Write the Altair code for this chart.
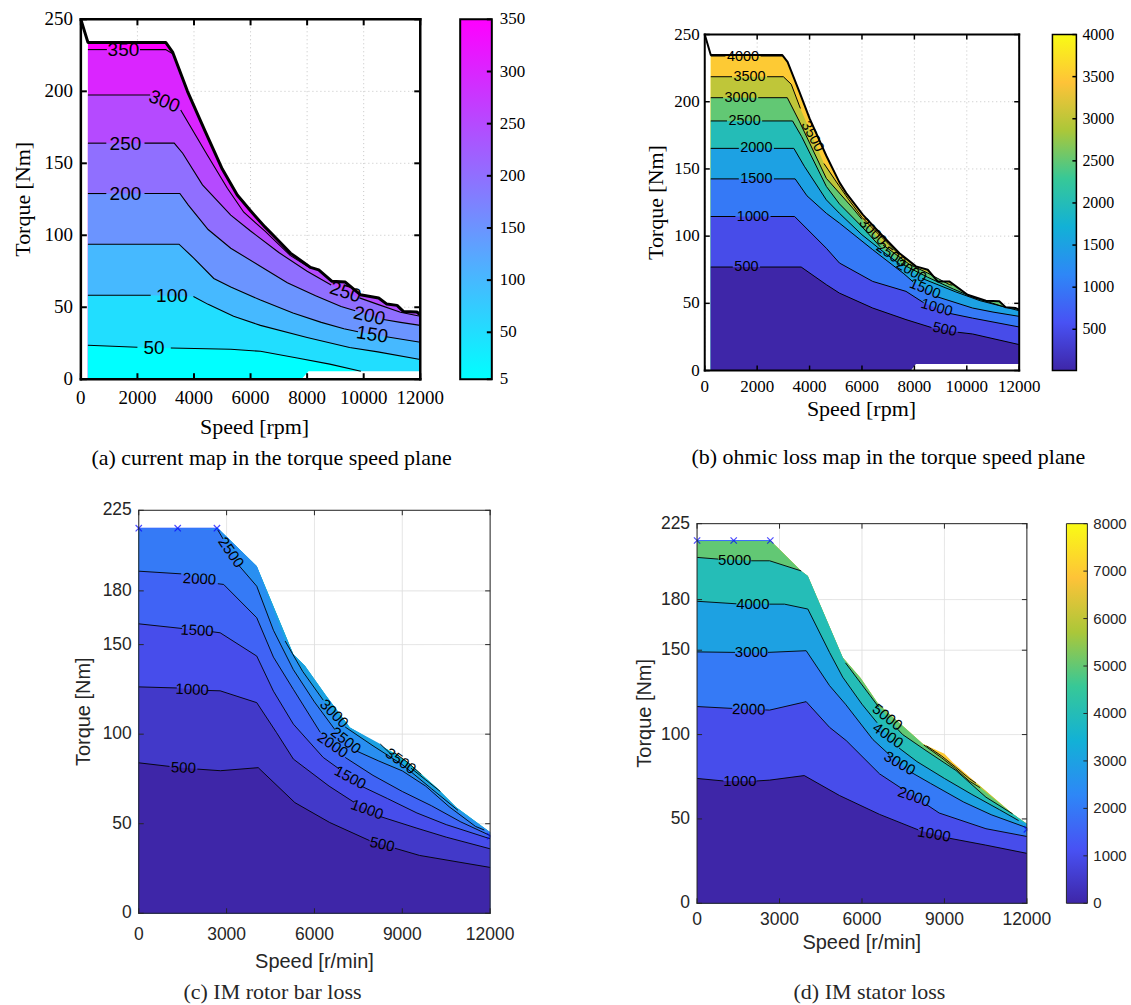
import altair as alt
import pandas as pd

SERIF = "Liberation Serif"
SANS = "Liberation Sans"

# ---------------- tick values ----------------
AB_SPEED_TICKS = [0, 2000, 4000, 6000, 8000, 10000, 12000]
AB_TORQUE_TICKS = [0, 50, 100, 150, 200, 250]
CD_SPEED_TICKS = [0, 3000, 6000, 9000, 12000]
CD_TORQUE_TICKS = [0, 50, 100, 150, 180, 225]
A_CB_TICKS = [5, 50, 100, 150, 200, 250, 300, 350]
B_CB_TICKS = [500, 1000, 1500, 2000, 2500, 3000, 3500, 4000]
D_CB_TICKS = [0, 1000, 2000, 3000, 4000, 5000, 6000, 7000, 8000]

COOL = ["#00ffff", "#ff00ff"]
PARULA = ["#3e26a8", "#4852f4", "#2e87f7", "#12b1d6", "#37c897", "#abc739", "#fec338", "#f9fb15"]

# ---------------- (a) current map ----------------
A_ENV_START = [(0, 250), (250, 234)]
A_ENV = [(250, 234), (3000, 234), (3250, 227), (3770, 200), (4400, 172), (5000, 146), (5530, 128),
         (6000, 117), (6500, 106), (7000, 96), (7410, 87.6), (8120, 77.7), (8410, 76), (8880, 68),
         (9350, 67.5), (9880, 58.7), (10530, 56.4), (10820, 52.2), (11180, 51.3), (11410, 47),
         (11880, 46.7), (12000, 44.8)]
A_GAP = [(7800, 0), (8050, 5.5), (12000, 5.5)]
A_C350 = [(250, 229), (920, 229), None, (2090, 229), (3000, 229), (3250, 226)]
A_C300 = [(250, 197.4), (2450, 197.4), None, (3530, 187), (4470, 155.8), (5180, 132.7), (5760, 116),
          (6500, 103), (7400, 86), (8120, 77)]
A_C250 = [(250, 164), (900, 164), None, (2250, 164), (3300, 164), (3600, 157), (4300, 135), (5300, 114),
          (6000, 103), (7000, 88), (8000, 75), (8850, 65.5), None, (9850, 56.5), (10500, 52),
          (11300, 46.5), (12000, 43.8)]
A_C200 = [(250, 129), (900, 129), None, (2250, 129), (3500, 129), (3800, 121), (4500, 104), (5300, 91),
          (6300, 79), (7300, 67), (8300, 58), (9200, 50.5), (9700, 47.5), None, (10700, 41.5),
          (11300, 39.5), (12000, 37.4)]
A_C150 = [(250, 93.8), (3470, 93.8), (4000, 84), (4700, 70), (5300, 64), (6350, 55), (7500, 46),
          (8500, 39.5), (9300, 35), (9800, 33), None, (10800, 29.5), (12000, 25.7)]
A_C100 = [(250, 58.3), (2470, 58.3), None, (3980, 57.5), (4500, 52), (5400, 43.7), (6350, 37.4),
          (8000, 29), (9500, 22), (10500, 19), (12000, 13.7)]
A_C50 = [(250, 23.6), (2000, 22.2), None, (3180, 21.7), (5300, 20.8), (6350, 19.4), (7650, 14.8),
         (8800, 10.5), (9900, 5.5)]
A_LABELS = [("350", 1505, 228.5, 0), ("300", 2950, 193, 22), ("250", 1575, 163.5, 0),
            ("200", 1575, 128.5, 0), ("100", 3220, 57.8, 0), ("50", 2590, 22, 0),
            ("250", 9350, 60.5, 18), ("200", 10200, 44, 13), ("150", 10300, 31, 9)]

# ---------------- (b) ohmic loss map ----------------
B_ENV_START = [(0, 250), (230, 234.7)]
B_ENV = [(230, 234.7), (2960, 234.7), (3160, 229.7), (3620, 207), (4000, 187.6), (4635, 160),
         (5140, 140), (5400, 132), (6030, 116), (6700, 102), (7430, 87.3), (8060, 77.5), (8510, 75),
         (8890, 66.3), (9330, 66.3), (10030, 56.4), (10730, 52), (11240, 51.5), (11490, 47),
         (11870, 46.5), (12000, 45.3)]
B_GAP = [(7870, 0), (8060, 4.9), (12000, 4.9)]
B_C4000 = [(230, 234), (790, 234), None, (2130, 234), (2960, 234)]
B_C3500 = [(230, 218.6), (1040, 218.6), None, (2380, 218.6), (3000, 218.6), (3300, 213), (3650, 195),
           None, (4550, 154), (5000, 141), (5500, 127), (6000, 114), (6500, 104), (7000, 94.5),
           (7430, 86)]
B_C3000 = [(230, 203), (700, 203), None, (2040, 203), (3150, 203), (3620, 185), (4640, 143),
           (5650, 120.8), (6000, 112.5), None, (6800, 93.5), (7810, 79), (8510, 72.5), (9330, 64),
           (9450, 63.5)]
B_C2500 = [(230, 185.7), (850, 185.7), None, (2190, 185.7), (3350, 185.7), (3700, 174), (4640, 137),
           (5140, 124), (6000, 107), (6700, 92), None, (7500, 79.5), (8500, 69.5), (9500, 60.5),
           (10300, 54), (11000, 50), (11500, 46.8)]
B_C2000 = [(230, 165.3), (1300, 165.3), None, (2640, 165.3), (3400, 165.3), (3800, 152), (4640, 127),
           (5140, 117), (6000, 101), (6900, 87), (7450, 79), None, (8300, 68.5), (9580, 58.5),
           (10500, 52), (11300, 48), (12000, 44.5)]
B_C1500 = [(230, 142.6), (1300, 142.6), None, (2640, 142.6), (3450, 142.6), (3900, 130), (4640, 117),
           (5140, 109.7), (6410, 89.9), (7600, 72), (7950, 66), None, (8850, 55), (10220, 46.5),
           (11000, 43.5), (12000, 40.3)]
B_C1000 = [(230, 114.6), (1170, 114.6), None, (2510, 114.6), (3430, 114.6), (4640, 91), (5140, 80),
           (6410, 66.3), (7680, 58.9), (8350, 50.5), None, (9350, 42.5), (10220, 39), (12000, 32.4)]
B_C500 = [(230, 77), (1070, 77), None, (2110, 77), (3680, 77), (4640, 63.9), (5140, 57.6),
          (6410, 46.5), (7680, 37.9), (8650, 32), None, (9650, 28.5), (10220, 27.2), (12000, 19.3)]
B_LABELS = [("4000", 1460, 233.6, 0), ("3500", 1710, 218.6, 0), ("3000", 1370, 203, 0),
            ("2500", 1520, 185.7, 0), ("2000", 1970, 165.3, 0), ("1500", 1970, 142.6, 0),
            ("1000", 1840, 114.6, 0), ("500", 1590, 77, 0),
            ("3500", 4100, 174, 62), ("3000", 6400, 103, 45), ("2500", 7100, 85.8, 35),
            ("2000", 7875, 73.7, 30), ("1500", 8400, 60.5, 22), ("1000", 8850, 46.5, 16),
            ("500", 9150, 30.3, 12)]

# ---------------- (c) IM rotor bar loss ----------------
C_ENV = [(0, 215), (1300, 215), (2700, 215), (4030, 193.8), (5280, 144.6), (5680, 138), (6400, 121.5),
         (7210, 103.7), (8570, 90.8), (9140, 85.2), (10160, 70.3), (10840, 59.2), (12000, 45.3)]
C_MARKS = [(0, 215), (1330, 215), (2670, 215), (12000, 43)]
C_C4000 = [(8750, 89.5), (9200, 84), (9650, 77.5)]
C_C3500 = [(8250, 94.5), (8600, 89), None, (9300, 81), (9800, 74.5), (10300, 68)]
C_C3000 = [(5000, 152), (5600, 135), (6300, 119), None, (7050, 104), (8000, 93.5), (9000, 83),
           (10000, 69.5), (10900, 57.5)]
C_C2500 = [(2700, 214), (2880, 209), None, (3430, 194), (4030, 182.6), (4600, 158), (5280, 136),
           (6000, 118), (6700, 102.5), None, (7450, 90.5), (8200, 85), (9000, 79.5), (9800, 71),
           (10600, 59.5), (11500, 48.5), (11800, 46.5)]
C_C2000 = [(0, 191), (1450, 189.5), None, (2700, 184), (2900, 183.6), (4030, 165), (4600, 143),
           (5280, 125), (6200, 101), None, (7050, 87), (8000, 77), (9000, 68), (10000, 60),
           (11000, 51), (12000, 43.4)]
C_C1500 = [(0, 161.6), (1480, 159), None, (2500, 157.2), (2780, 156.6), (4030, 143.6), (4600, 124),
           (5280, 105.6), (6300, 87), (6850, 80.5), None, (7600, 71), (8500, 64), (9500, 56),
           (10500, 49.5), (12000, 41.6)]
C_C1000 = [(0, 126.4), (1300, 125.8), None, (2350, 124.4), (2780, 124.2), (4030, 117.6), (4700, 101),
           (5280, 86.1), (6500, 71), (7350, 62), None, (8250, 54), (9500, 47.5), (10500, 42.5),
           (12000, 36)]
C_C500 = [(0, 84), (1050, 82), None, (2000, 80.5), (2790, 79.6), (4080, 81.3), (5330, 61.8),
          (6520, 50.7), (7880, 40.6), None, (8750, 36.3), (9590, 32.3), (12000, 25.6)]
C_LABELS = [("2500", 3155, 201.5, 55), ("2000", 2075, 186.7, 3), ("1500", 1990, 158, 3),
            ("1000", 1825, 125, 2), ("500", 1525, 81.3, 2),
            ("3000", 6675, 111.5, 45), ("2500", 7075, 96.5, 38), ("2000", 6625, 94, 35),
            ("1500", 7225, 75.8, 28), ("1000", 7800, 58, 20), ("500", 8315, 38.5, 12),
            ("3500", 8950, 85, 35)]

# ---------------- (d) IM stator loss ----------------
D_ENV = [(0, 215), (1300, 215), (2670, 215), (3790, 197), (4030, 194), (5300, 145.7), (5950, 133.5),
         (6600, 118), (8210, 94.5), (9000, 88.6), (9300, 83.6), (10200, 70.8), (11480, 53),
         (12000, 47.2)]
D_MARKS = [(0, 215), (1333, 215), (2666, 215), (12000, 43.8)]
D_C7000 = [(8350, 93.3), (8900, 87.3), (9400, 80.8), (9900, 74), (10150, 71.2)]
D_C6000 = [(8250, 93.8), (8900, 86.2), (9400, 79.8), (9900, 72.5), (10300, 68.5)]
D_C5000_A = [(0, 205), (770, 204), None, (1970, 203), (2640, 203), (3790, 197)]
D_C5000_B = [(5400, 142.5), (6300, 123), (6600, 116.5), None, (7250, 104), (7480, 100), (8330, 90.5),
             (9420, 78.7), (10510, 62.9), (11480, 53)]
D_C4000 = [(0, 179), (1430, 177.5), None, (2630, 177.3), (3180, 177.3), (4030, 174.4), (4820, 148.7),
           (5300, 134), (6000, 118), (6550, 107), None, (7350, 92), (8000, 84), (9000, 74),
           (10000, 64.5), (11000, 55.5), (11700, 49)]
D_C3000 = [(0, 149), (1380, 148.7), None, (2580, 148.7), (3970, 149.7), (4820, 129), (5400, 118),
           (6400, 97), (7000, 88), None, (7750, 78), (8500, 71), (9700, 60), (10700, 52.5),
           (12000, 44.8)]
D_C2000 = [(0, 116.6), (1280, 115.5), None, (2480, 114.6), (2640, 114.5), (3970, 119.5), (4820, 104.3),
           (5430, 96.4), (6640, 76.7), (7450, 68), None, (8350, 58.5), (8810, 53.5), (10510, 44.2),
           (12000, 39.6)]
D_C1000 = [(0, 74), (960, 72.5), None, (2160, 72.5), (2640, 73), (3900, 75.7), (5180, 63.9),
           (6640, 52.7), (8050, 43.5), None, (9200, 38.5), (10500, 34.5), (12000, 29.6)]
D_LABELS = [("5000", 1370, 203.5, 0), ("4000", 2030, 177.4, 0), ("3000", 1980, 148.7, 0),
            ("2000", 1880, 115, 1), ("1000", 1560, 72.5, 0),
            ("5000", 6925, 110.3, 38), ("4000", 6950, 99.5, 35), ("3000", 7375, 83, 30),
            ("2000", 7900, 63.2, 20), ("1000", 8625, 41, 10)]

CAPTIONS = ["(a) current map in the torque speed plane", "(b) ohmic loss map in the torque speed plane",
            "(c) IM rotor bar loss", "(d) IM stator loss"]
XTITLES = ["Speed [rpm]", "Speed [rpm]", "Speed [r/min]", "Speed [r/min]"]
YTITLE = "Torque [Nm]"


def split_pieces(seg):
    pieces, cur = [], []
    for p in seg:
        if p is None:
            if cur:
                pieces.append(cur)
            cur = []
        else:
            cur.append(p)
    if cur:
        pieces.append(cur)
    return pieces


def boundary(env, segs, floor=False):
    pts = [p for s in segs for p in s if p is not None]
    if not floor:
        rng = []
        for s in segs:
            xs = [p[0] for p in s if p is not None]
            rng.append((min(xs), max(xs)))
        pts = pts + [p for p in env if not any(lo <= p[0] <= hi for lo, hi in rng)]
    return sorted(pts)


ONE = pd.DataFrame({"k": [0]})


def pts_df(pts):
    return pd.DataFrame({"speed": [p[0] for p in pts], "torque": [p[1] for p in pts]})


def build_panel(P):
    ox, oy, w, h = P["ox"], P["oy"], P["w"], P["h"]
    st = P["style"]
    fld = P["field"]
    xs = alt.Scale(domain=[0, 12000], range=[ox, ox + w], nice=False, zero=False)
    ys = alt.Scale(domain=[0, P["ymax"]], range=[oy + h, oy], nice=False, zero=False)
    cs = alt.Scale(domain=P["cdom"], range=P["crange"], interpolate="rgb")

    def X(f="speed"):
        return alt.X(f + ":Q", scale=xs, axis=None)

    def Y(f="torque"):
        return alt.Y(f + ":Q", scale=ys, axis=None)

    xt = pd.DataFrame({"v": P["xticks"]})
    yt = pd.DataFrame({"v": P["yticks"]})
    layers = []
    # grid
    gk = dict(color=st["grid"], strokeWidth=1, strokeDash=st["dash"])
    layers += [
        alt.Chart(xt).mark_rule(**gk).encode(x=X("v"), y=alt.value(oy), y2=alt.value(oy + h)),
        alt.Chart(yt).mark_rule(**gk).encode(y=Y("v"), x=alt.value(ox), x2=alt.value(ox + w)),
    ]
    # filled contour bands
    area_sets = [(P["env"], P["top_band"])]
    for c in P["contours"]:
        area_sets.append((boundary(P["env"], c["segs"], c.get("floor", False)), c["band"]))
    for pts, band in area_sets:
        df = pts_df(pts)
        df[fld] = band
        layers.append(alt.Chart(df).mark_area().encode(
            x=X(), y=Y(), y2=alt.datum(0), color=alt.Color(fld + ":Q", scale=cs, legend=None)))
    if P.get("gap"):
        layers.append(alt.Chart(pts_df(P["gap"])).mark_area(color="white").encode(
            x=X(), y=Y(), y2=alt.datum(0)))
    # contour lines
    rows = []
    for li, c in enumerate(P["contours"]):
        for si, s in enumerate(c["segs"]):
            for pi, piece in enumerate(split_pieces(s)):
                for i, p in enumerate(piece):
                    rows.append(dict(speed=p[0], torque=p[1], cid=f"{li}_{si}_{pi}", i=i))
    layers.append(alt.Chart(pd.DataFrame(rows)).mark_line(color="black", strokeWidth=st["lw"]).encode(
        x=X(), y=Y(), detail="cid:N", order="i:Q"))
    if P.get("env_line"):
        layers.append(alt.Chart(pts_df(P["env_line"])).mark_line(
            color="black", strokeWidth=st["env_w"], strokeJoin="round").encode(x=X(), y=Y()))
    if P.get("marks"):
        mk = P["marks"]
        layers.append(alt.Chart(pts_df(mk[:3])).mark_line(color="#3a6bff", strokeWidth=1).encode(
            x=X(), y=Y()))
        layers.append(alt.Chart(pts_df(mk)).mark_point(
            shape="M-1,-1L1,1M-1,1L1,-1", size=40, color="#0000ff", strokeWidth=1.2).encode(
            x=X(), y=Y()))
    lab = pd.DataFrame(P["labels"], columns=["txt", "speed", "torque", "ang"])
    layers.append(alt.Chart(lab).mark_text(font=SANS, fontSize=st["lab_fs"], color="black",
                                           align="center", baseline="middle").encode(
        x=X(), y=Y(), text="txt:N", angle=alt.Angle("ang:Q", scale=None)))
    # white cover outside the plot box (clips the marker at the right edge)
    layers.append(alt.Chart(ONE).mark_rect(color="white").encode(
        x=alt.value(ox + w + 0.5), x2=alt.value(ox + w + 12), y=alt.value(oy), y2=alt.value(oy + h)))
    # inward ticks
    tl = st["tick_len"]
    rk = dict(color=st["frame"], strokeWidth=st["tick_w"])
    layers += [
        alt.Chart(xt).mark_rule(**rk).encode(x=X("v"), y=alt.value(oy + h), y2=alt.value(oy + h - tl)),
        alt.Chart(xt).mark_rule(**rk).encode(x=X("v"), y=alt.value(oy), y2=alt.value(oy + tl)),
        alt.Chart(yt).mark_rule(**rk).encode(y=Y("v"), x=alt.value(ox), x2=alt.value(ox + tl)),
        alt.Chart(yt).mark_rule(**rk).encode(y=Y("v"), x=alt.value(ox + w - tl), x2=alt.value(ox + w)),
    ]
    # box
    fk = dict(color=st["frame"], strokeWidth=st["frame_w"], strokeCap="square")
    layers += [
        alt.Chart(ONE).mark_rule(**fk).encode(x=alt.value(ox), x2=alt.value(ox + w), y=alt.value(oy)),
        alt.Chart(ONE).mark_rule(**fk).encode(x=alt.value(ox), x2=alt.value(ox + w), y=alt.value(oy + h)),
        alt.Chart(ONE).mark_rule(**fk).encode(x=alt.value(ox), y=alt.value(oy), y2=alt.value(oy + h)),
        alt.Chart(ONE).mark_rule(**fk).encode(x=alt.value(ox + w), y=alt.value(oy), y2=alt.value(oy + h)),
    ]
    # tick labels
    tk = dict(font=st["font"], fontSize=st["tick_fs"], color=st["fg"])
    layers += [
        alt.Chart(xt).mark_text(align="center", baseline="middle", **tk).encode(
            x=X("v"), y=alt.value(oy + h + st["xlab_dy"]), text=alt.Text("v:Q", format="d")),
        alt.Chart(yt).mark_text(align="right", baseline="middle", **tk).encode(
            y=Y("v"), x=alt.value(ox - st["ylab_dx"]), text=alt.Text("v:Q", format="d")),
    ]
    # axis titles / caption
    for txt, tx, ty, ang, font, fs in P["texts"]:
        layers.append(alt.Chart(pd.DataFrame({"t": [txt]})).mark_text(
            font=font, fontSize=fs, color=st["fg"], angle=ang, align="center", baseline="middle").encode(
            x=alt.value(ox + tx), y=alt.value(oy + ty), text="t:N"))
    main = alt.layer(*layers)
    if not P.get("cb"):
        return main.properties(width=P["cw"], height=P["ch"])
    cb = P["cb"]
    cx0, cx1 = ox + cb["x0"], ox + cb["x1"]
    cbs = alt.Scale(domain=[cb["lo"], cb["hi"]], range=[oy + h, oy], nice=False, zero=False)
    n = len(P["crange"])
    grad = alt.LinearGradient(gradient="linear", x1=0, x2=0, y1=1, y2=0,
                              stops=[alt.GradientStop(offset=i / (n - 1), color=c)
                                     for i, c in enumerate(P["crange"])])
    ct = pd.DataFrame({"v": cb["ticks"]})
    cbl = [
        alt.Chart(pd.DataFrame({"lo": [cb["lo"]], "hi": [cb["hi"]]})).mark_rect(color=grad).encode(
            x=alt.value(cx0), x2=alt.value(cx1),
            y=alt.Y("lo:Q", scale=cbs, axis=None), y2=alt.Y2("hi:Q")),
        alt.Chart(ct).mark_rule(color=st["frame"], strokeWidth=st["cb_tick_w"]).encode(
            x=alt.value(cx1 - st["cb_tick_len"]), x2=alt.value(cx1),
            y=alt.Y("v:Q", scale=cbs, axis=None)),
        alt.Chart(ONE).mark_rect(fillOpacity=0, stroke=st["frame"], strokeWidth=st["cb_frame_w"]).encode(
            x=alt.value(cx0), x2=alt.value(cx1), y=alt.value(oy), y2=alt.value(oy + h)),
        alt.Chart(ct).mark_text(align="left", baseline="middle", font=st["font"], fontSize=st["cb_fs"],
                                color=st["fg"]).encode(
            x=alt.value(cx1 + st["cb_pad"]), y=alt.Y("v:Q", scale=cbs, axis=None),
            text=alt.Text("v:Q", format="d")),
    ]
    return (alt.layer(main, alt.layer(*cbl)).resolve_scale(y="independent")
            .properties(width=P["cw"], height=P["ch"]))


STYLE_A = dict(font=SERIF, tick_fs=19, fg="black", grid="#c4c4c4", dash=[1, 3], xlab_dy=19, ylab_dx=8,
               frame="black", frame_w=2.5, tick_w=2, tick_len=6, lw=1.1, env_w=3, lab_fs=19,
               cb_fs=17, cb_pad=8, cb_frame_w=2, cb_tick_len=5, cb_tick_w=2)
STYLE_B = dict(font=SERIF, tick_fs=17, fg="black", grid="#c4c4c4", dash=[1, 3], xlab_dy=16.5, ylab_dx=5,
               frame="black", frame_w=2, tick_w=1.5, tick_len=5, lw=1, env_w=2, lab_fs=14.5,
               cb_fs=16, cb_pad=6, cb_frame_w=1.5, cb_tick_len=4, cb_tick_w=1.5)
STYLE_C = dict(font=SANS, tick_fs=17.5, fg="#262626", grid="#e0e0e0", dash=[1, 0], xlab_dy=21.5,
               ylab_dx=7, frame="#262626", frame_w=1, tick_w=1, tick_len=5, lw=0.9, env_w=1,
               lab_fs=15, cb_fs=15, cb_pad=6, cb_frame_w=1, cb_tick_len=4, cb_tick_w=1)
STYLE_D = dict(STYLE_C, xlab_dy=17)

parula_b = [10 + i * (4000 - 10) / 7 for i in range(8)]
parula_cd = [i * 8000 / 7 for i in range(8)]

PA = dict(cw=565, ch=490, ox=80, oy=17.5, w=340, h=360.5, ymax=250, style=STYLE_A, field="band_a",
          cdom=[5, 350], crange=COOL, xticks=AB_SPEED_TICKS, yticks=AB_TORQUE_TICKS, env=A_ENV,
          top_band=350, env_line=A_ENV_START[:1] + A_ENV, gap=A_GAP, labels=A_LABELS,
          contours=[dict(segs=[A_C350], band=300), dict(segs=[A_C300], band=250),
                    dict(segs=[A_C250], band=200), dict(segs=[A_C200], band=150),
                    dict(segs=[A_C150], band=100), dict(segs=[A_C100], band=50),
                    dict(segs=[A_C50], band=5, floor=True)],
          cb=dict(lo=5, hi=350, ticks=A_CB_TICKS, x0=380, x1=411.7),
          texts=[(YTITLE, -58, 180.25, 270, SERIF, 22), (XTITLES[0], 174, 408.5, 0, SERIF, 22),
                 (CAPTIONS[0], 191, 439.5, 0, SERIF, 22)])
PB = dict(cw=566, ch=490, ox=140, oy=32.7, w=315, h=336.6, ymax=250, style=STYLE_B, field="band_b",
          cdom=parula_b, crange=PARULA, xticks=AB_SPEED_TICKS, yticks=AB_TORQUE_TICKS, env=B_ENV,
          top_band=4000, env_line=B_ENV_START[:1] + B_ENV, gap=B_GAP, labels=B_LABELS,
          contours=[dict(segs=[B_C4000], band=3500), dict(segs=[B_C3500], band=3000),
                    dict(segs=[B_C3000], band=2500), dict(segs=[B_C2500], band=2000),
                    dict(segs=[B_C2000], band=1500), dict(segs=[B_C1500], band=1000),
                    dict(segs=[B_C1000], band=500), dict(segs=[B_C500], band=10)],
          cb=dict(lo=10, hi=4000, ticks=B_CB_TICKS, x0=348.3, x1=372.3),
          texts=[(YTITLE, -49, 168.3, 270, SERIF, 22), (XTITLES[1], 157, 375.3, 0, SERIF, 22),
                 (CAPTIONS[1], 184, 423.3, 0, SERIF, 22)])
PC = dict(cw=565, ch=515, ox=138, oy=19.3, w=352, h=403.7, ymax=225, style=STYLE_C, field="band_c",
          cdom=parula_cd, crange=PARULA, xticks=CD_SPEED_TICKS, yticks=CD_TORQUE_TICKS, env=C_ENV,
          top_band=4000, marks=C_MARKS, labels=C_LABELS,
          contours=[dict(segs=[C_C4000], band=3500), dict(segs=[C_C3500], band=3000),
                    dict(segs=[C_C3000], band=2500), dict(segs=[C_C2500], band=2000),
                    dict(segs=[C_C2000], band=1500), dict(segs=[C_C1500], band=1000),
                    dict(segs=[C_C1000], band=500), dict(segs=[C_C500], band=0)],
          texts=[(YTITLE, -55, 201.8, 270, SANS, 20), (XTITLES[2], 176, 452.7, 0, SANS, 20),
                 (CAPTIONS[2], 134, 482.7, 0, SERIF, 22)])
PD = dict(cw=566, ch=515, ox=132.3, oy=32.7, w=330.4, h=380.3, ymax=225, style=STYLE_D, field="band_d",
          cdom=parula_cd, crange=PARULA, xticks=CD_SPEED_TICKS, yticks=CD_TORQUE_TICKS, env=D_ENV,
          top_band=7000, marks=D_MARKS, labels=D_LABELS,
          contours=[dict(segs=[D_C7000], band=6000), dict(segs=[D_C6000], band=5000),
                    dict(segs=[D_C5000_A, D_C5000_B], band=4000), dict(segs=[D_C4000], band=3000),
                    dict(segs=[D_C3000], band=2000), dict(segs=[D_C2000], band=1000),
                    dict(segs=[D_C1000], band=0)],
          cb=dict(lo=0, hi=8000, ticks=D_CB_TICKS, x0=370, x1=391),
          texts=[(YTITLE, -52, 190, 270, SANS, 20), (XTITLES[3], 165, 420.3, 0, SANS, 20),
                 (CAPTIONS[3], 172.7, 469.3, 0, SERIF, 22)])

chart = (alt.concat(build_panel(PA), build_panel(PB), build_panel(PC), build_panel(PD),
                    columns=2, spacing=0, bounds="flush")
         .resolve_scale(color="independent")
         .properties(padding=0, background="white")
         .configure_view(stroke="transparent"))

chart.save("out.html", embed_options={"renderer": "svg", "actions": False})
